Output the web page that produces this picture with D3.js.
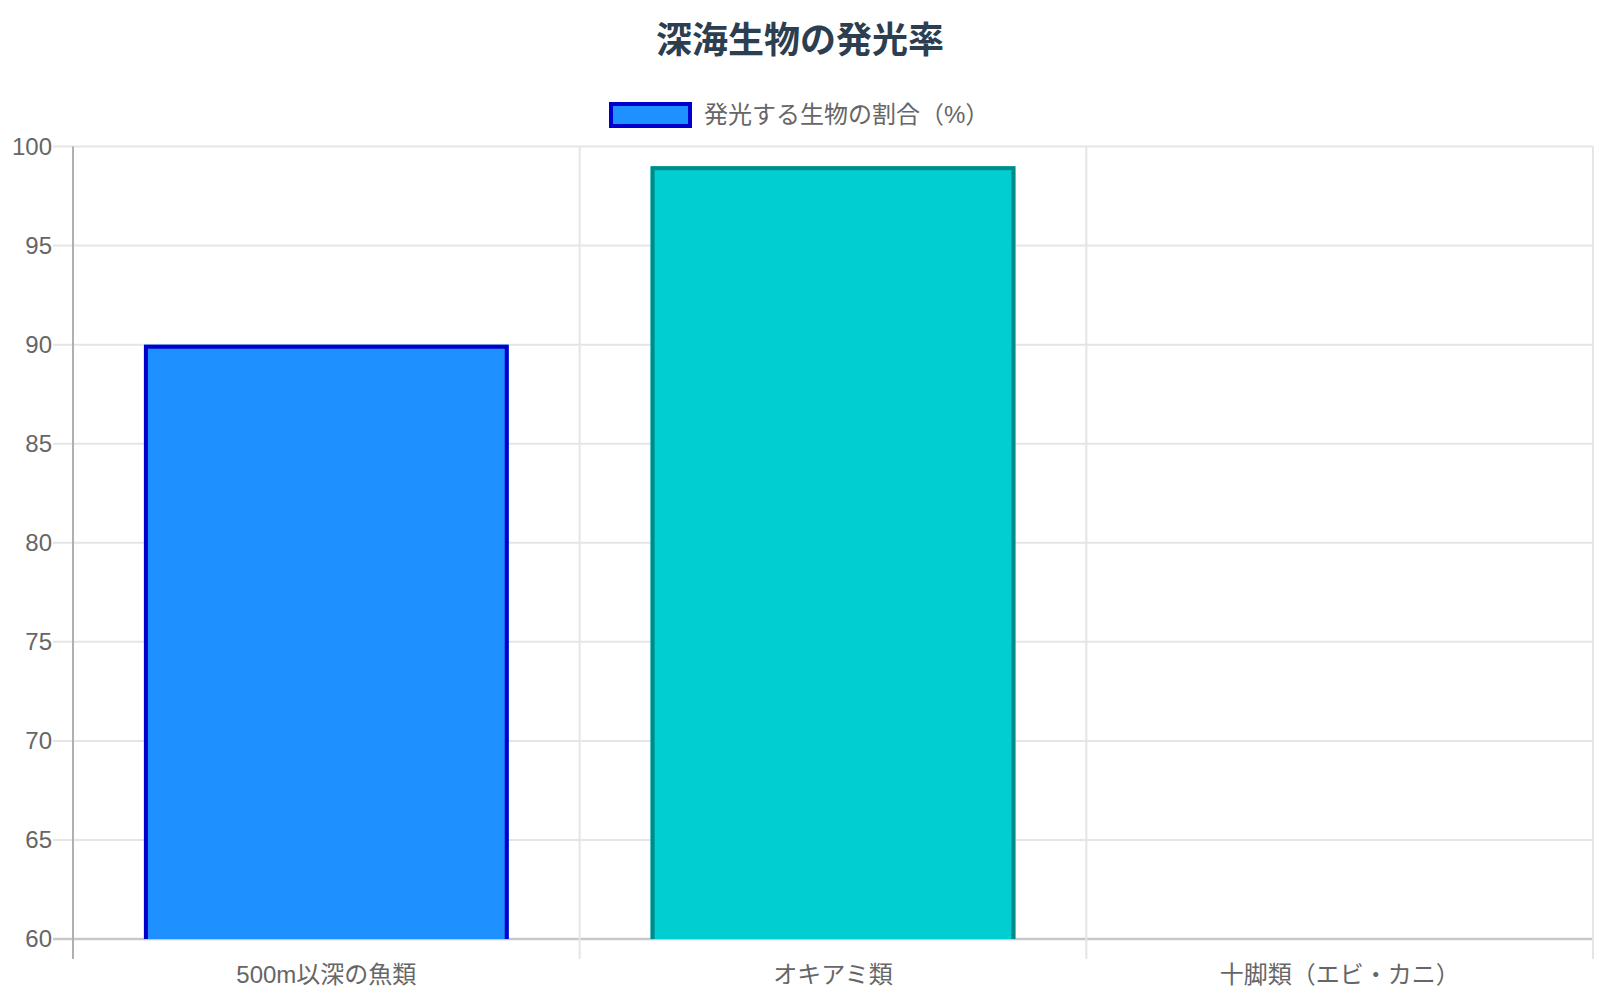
<!DOCTYPE html>
<html>
<head>
<meta charset="utf-8">
<script src="https://cdn.jsdelivr.net/npm/d3@7"></script>
<style>
  body { margin: 0; background: #fff; }
  svg text { font-family: "Liberation Sans", Arial, "Noto Sans CJK JP", sans-serif; }
</style>
</head>
<body>
<div id="chart"></div>
<script>
// data
const categories = ["500m以深の魚類", "オキアミ類", "十脚類（エビ・カニ）"];
const values = [90, 99, null];   // third bar is below the axis minimum, nothing visible
const fills = ["#1e90ff", "#00ced1", "#ff7f50"];
const strokes = ["#0000cd", "#008b8b", "#ff4500"];
const yTicks = [60, 65, 70, 75, 80, 85, 90, 95, 100];
const chartTitle = "深海生物の発光率";
const legendLabel = "発光する生物の割合（%）";

const width = 1600, height = 1000;
const margin = { top: 146.5, right: 7, bottom: 61, left: 73 };
const bw = 4; // bar border width

const svg = d3.select("#chart").append("svg")
    .attr("width", width)
    .attr("height", height);

const x = d3.scaleBand()
    .domain(categories)
    .range([margin.left, width - margin.right]);

const y = d3.scaleLinear()
    .domain([60, 100])
    .range([height - margin.bottom, margin.top]);

// grid
const grid = svg.append("g");
grid.selectAll(".hgrid")
    .data(yTicks)
    .join("line")
    .attr("x1", margin.left - 20)
    .attr("x2", width - margin.right)
    .attr("y1", d => y(d))
    .attr("y2", d => y(d))
    .attr("stroke", d => d === 60 ? "#c8c8c8" : "#e5e5e5")
    .attr("stroke-width", d => d === 60 ? 2.5 : 2);

const xLines = categories.map(c => x(c)).concat([width - margin.right]);
grid.selectAll(".vgrid")
    .data(xLines)
    .join("line")
    .attr("x1", d => d)
    .attr("x2", d => d)
    .attr("y1", margin.top)
    .attr("y2", height - margin.bottom + 20)
    .attr("stroke", (d, i) => i === 0 ? "#b0b0b0" : "#e5e5e5")
    .attr("stroke-width", 2);

// bars (border drawn inside, bottom edge skipped)
const inner = x.bandwidth() * 0.72;
const barData = categories.map((c, i) => ({ c, v: values[i], i })).filter(d => d.v != null);
const bars = svg.append("g");
bars.selectAll("rect")
    .data(barData)
    .join("rect")
    .attr("x", d => x(d.c) + (x.bandwidth() - inner) / 2)
    .attr("width", inner)
    .attr("y", d => y(d.v))
    .attr("height", d => y(60) - y(d.v))
    .attr("fill", d => fills[d.i]);
bars.selectAll("path")
    .data(barData)
    .join("path")
    .attr("d", d => {
        const x0 = x(d.c) + (x.bandwidth() - inner) / 2 + bw / 2;
        const x1 = x0 + inner - bw;
        const yt = y(d.v) + bw / 2;
        const yb = y(60);
        return `M${x0},${yb}V${yt}H${x1}V${yb}`;
    })
    .attr("fill", "none")
    .attr("stroke", d => strokes[d.i])
    .attr("stroke-width", bw);

// y tick labels
svg.append("g").selectAll("text")
    .data(yTicks)
    .join("text")
    .attr("x", margin.left - 21)
    .attr("y", d => y(d))
    .attr("dy", "0.35em")
    .attr("text-anchor", "end")
    .attr("fill", "#666")
    .style("font-size", "24px")
    .text(d => d);

// x labels
svg.append("g").selectAll("text")
    .data(categories)
    .join("text")
    .attr("x", d => x(d) + x.bandwidth() / 2)
    .attr("y", 975)
    .attr("dy", "0.35em")
    .attr("text-anchor", "middle")
    .attr("fill", "#666")
    .style("font-size", "24px")
    .text(d => d);

// title
svg.append("text")
    .attr("x", width / 2)
    .attr("y", 40)
    .attr("dy", "0.35em")
    .attr("text-anchor", "middle")
    .attr("fill", "#2c3e50")
    .style("font-size", "36px")
    .style("font-weight", "bold")
    .text(chartTitle);

// legend
const legend = svg.append("g");
legend.append("rect")
    .attr("x", 611)
    .attr("y", 104)
    .attr("width", 79)
    .attr("height", 22)
    .attr("fill", fills[0])
    .attr("stroke", strokes[0])
    .attr("stroke-width", 4);
legend.append("text")
    .attr("x", 704)
    .attr("y", 115)
    .attr("dy", "0.35em")
    .attr("fill", "#666")
    .style("font-size", "24px")
    .text(legendLabel);
</script>
</body>
</html>
